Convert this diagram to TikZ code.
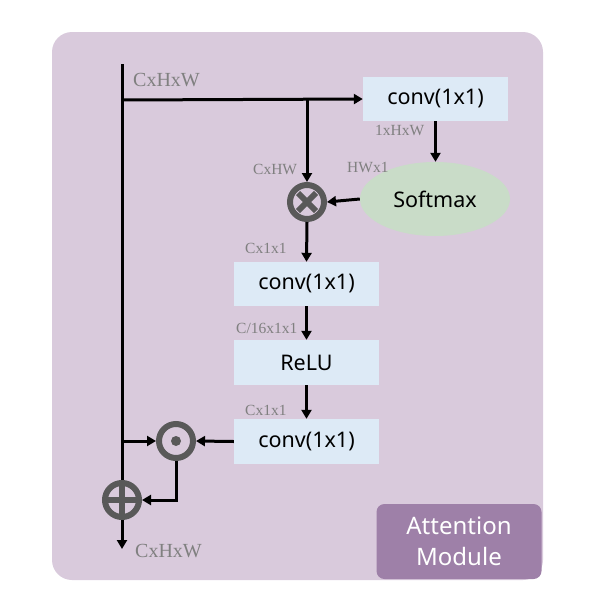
\documentclass[tikz,border=0pt]{standalone}
\usepackage{fontspec}
\setmainfont{Liberation Serif}
\newfontfamily\boxfont{Noto Sans}
\usetikzlibrary{shapes.geometric,arrows.meta,calc}
\definecolor{bgpurple}{RGB}{217,202,220}
\definecolor{boxblue}{RGB}{221,234,246}
\definecolor{smgreen}{RGB}{201,220,200}
\definecolor{opgray}{RGB}{89,89,89}
\definecolor{labgray}{RGB}{128,128,128}
\definecolor{tagpurple}{RGB}{158,128,168}
\begin{document}
\begin{tikzpicture}[x=1pt,y=-1pt,
  flow/.style={line width=3pt,-{Triangle[length=9pt,width=10pt]}},
  plain/.style={line width=3pt},
  opbox/.style={fill=boxblue,minimum width=145pt,minimum height=44pt,inner sep=0pt,font=\boxfont\fontsize{21.5}{24}\selectfont},
  op/.style={circle,draw=opgray,line width=6pt,minimum size=34pt,inner sep=0pt},
  dimlab/.style={text=labgray,font=\fontsize{15.5}{18}\selectfont,inner sep=0pt},
  biglab/.style={text=labgray,font=\fontsize{20}{24}\selectfont,inner sep=0pt}]
\useasboundingbox (0,0) rectangle (597,608);
\fill[bgpurple,rounded corners=20pt] (52,32) rectangle (543,580);
% nodes
\node[opbox] (c1) at (435.5,99) {conv(1x1)};
\node[ellipse,fill=smgreen,minimum width=150pt,minimum height=74pt,inner sep=0pt,font=\boxfont\fontsize{21.5}{24}\selectfont] (sm) at (435,199) {Softmax};
\node[op] (mul) at (307,202) {};
\draw[opgray,line width=6pt] ($(mul.center)+(-9,-9)$) -- ($(mul.center)+(9,9)$) ($(mul.center)+(-9,9)$) -- ($(mul.center)+(9,-9)$);
\node[opbox] (c2) at (306.5,284) {conv(1x1)};
\node[opbox,minimum height=45pt] (relu) at (306.5,362.5) {ReLU};
\node[opbox,minimum height=45pt] (c3) at (306.5,441.5) {conv(1x1)};
\coordinate (top) at (122,64);
\coordinate (br) at (122,100);
\coordinate (brm) at (307,100);
\coordinate (brd) at (122,441);
\coordinate (bot) at (122,549);
\draw[plain] (top) -- (br);
\draw[flow] (br) -- (c1.west);
\draw[flow] (brm) -- (mul.north);
\draw[flow] (c1.south) -- (c1.south |- sm.north);
\draw[flow] (sm.west) -- (mul.east);
\draw[flow] (mul.south) -- (c2.north);
\draw[flow] (c2.south) -- (relu.north);
\draw[flow] (relu.south) -- (c3.north);
\node[op,fill=bgpurple] (dot) at (176,441) {};
\fill[opgray] (dot.center) circle (5pt);
\draw[flow] (c3.west) -- (dot.east);
\draw[flow] (brd) -- (dot.west);
\node[op,fill=bgpurple] (add) at (122,500) {};
\draw[opgray,line width=6pt] (add.north) -- (add.south) (add.west) -- (add.east);
\draw[plain] (br) -- (brd) -- (add.north);
\draw[flow] (add.south) -- (bot);
\draw[flow] (dot.south) |- (add.east);
% labels
\node[biglab,anchor=west] (l0) at (133,80) {CxHxW};
\node[dimlab,anchor=west] (l1) at (375,130) {1xHxW};
\node[dimlab,anchor=west] (l2) at (253,169) {CxHW};
\node[dimlab,anchor=west] (l3) at (347,167) {HWx1};
\node[dimlab,anchor=west] (l4) at (245,248) {Cx1x1};
\node[dimlab,anchor=west] (l5) at (236,328) {C/16x1x1};
\node[dimlab,anchor=west] (l6) at (245,410) {Cx1x1};
\node[biglab,anchor=west] (l7) at (135,551) {CxHxW};
% tag
\node[fill=tagpurple,rounded corners=8pt,minimum width=165pt,minimum height=75pt,inner sep=0pt,text=white,align=center,font=\boxfont\fontsize{24}{31}\selectfont] (tag) at (459,541.5) {Attention\\Module};
\end{tikzpicture}
\end{document}
